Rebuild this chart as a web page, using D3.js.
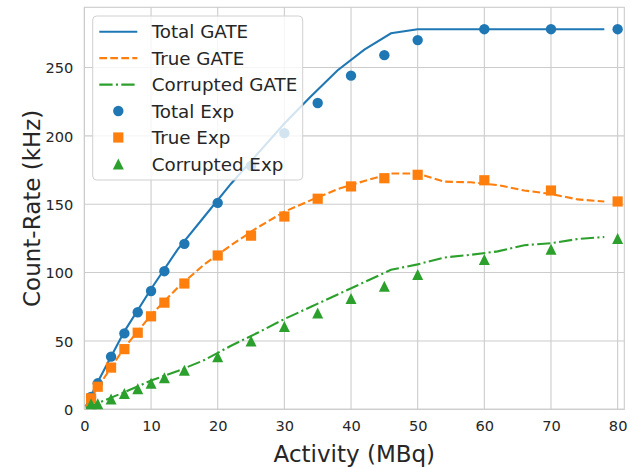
<!DOCTYPE html>
<html>
<head>
<meta charset="utf-8">
<script src="https://cdn.jsdelivr.net/npm/d3@7"></script>
<style>
  html, body { margin: 0; padding: 0; background: #fff; }
  svg { display: block; font-family: "DejaVu Sans", sans-serif; }
</style>
</head>
<body>
<svg id="chart" width="640" height="468"></svg>
<script>
// GATE simulation grid (MBq) and count rates (kHz)
var gateActivity = [0.2, 2, 6, 10, 14, 18, 22, 26, 30, 34, 38, 42, 46, 50, 54, 58, 62, 66, 70, 74, 78]
var totalGate    = [2, 20, 57, 88, 117, 141, 165, 187, 209, 229, 248, 263, 275, 278, 278, 278, 278, 278, 278, 278, 278]
var trueGate     = [2, 16, 45, 69, 89, 106, 120, 133, 144.5, 153, 161, 167, 172.5, 172.5, 166.5, 166, 164, 160, 157.5, 153.5, 152]
var corruptGate  = [1, 4.5, 12.5, 21, 28, 36, 46.5, 56, 66, 75, 84, 93, 102, 106, 111, 113, 115.5, 120, 121.5, 124.5, 126]

// experimental measurements
var expActivity  = [1, 2, 4, 6, 8, 10, 12, 15, 20, 25, 30, 35, 40, 45, 50, 60, 70, 80]
var totalExp     = [9, 19, 38.5, 55.5, 71, 86.5, 101, 121, 151, 178, 202, 224, 244, 259, 270, 278, 278, 278]
var trueExp      = [8, 16.5, 30.5, 44, 56, 68, 78, 92, 112.5, 127, 141, 154, 163, 169, 171.5, 167.5, 160, 152]
var corruptExp   = [4, 4, 7.5, 11.5, 15, 19, 23, 28.5, 38.5, 50, 60.5, 70.5, 81, 90, 98.5, 109.5, 117, 125]

var xTicks = [0, 10, 20, 30, 40, 50, 60, 70, 80]
var yTicks = [0, 50, 100, 150, 200, 250]

var blue = '#1f77b4', orange = '#ff7f0e', green = '#2ca02c'
var textColor = '#262626', gridColor = '#cccccc'

function drawChart() {
  var svg = d3.select('#chart')
  var plotL = 84.4, plotR = 624.3, plotT = 7.3, plotB = 409.3

  var x = d3.scaleLinear().domain([0, 81]).range([plotL, plotR])
  var y = d3.scaleLinear().domain([0, 294]).range([plotB, plotT])

  // grid
  svg.append('g').selectAll('line').data(xTicks).enter().append('line')
    .attr('x1', function (d) { return x(d) }).attr('x2', function (d) { return x(d) })
    .attr('y1', plotT).attr('y2', plotB)
    .attr('stroke', gridColor).attr('stroke-width', 1.1)
  svg.append('g').selectAll('line').data(yTicks).enter().append('line')
    .attr('y1', function (d) { return y(d) }).attr('y2', function (d) { return y(d) })
    .attr('x1', plotL).attr('x2', plotR)
    .attr('stroke', gridColor).attr('stroke-width', 1.1)

  // frame
  svg.append('rect').attr('x', plotL).attr('y', plotT)
    .attr('width', plotR - plotL).attr('height', plotB - plotT)
    .attr('fill', 'none').attr('stroke', gridColor).attr('stroke-width', 1.1)

  // tick labels via d3 axes, with lines hidden
  var xAxis = svg.append('g').attr('transform', 'translate(0,' + plotB + ')')
    .call(d3.axisBottom(x).tickValues(xTicks).tickSize(0).tickPadding(0))
  xAxis.attr('font-size', null).attr('font-family', null)
  xAxis.select('.domain').remove()
  xAxis.selectAll('text').attr('dy', null).attr('y', 22)
    .attr('font-size', 14.6).attr('fill', textColor)

  var yAxis = svg.append('g').attr('transform', 'translate(' + plotL + ',0)')
    .call(d3.axisLeft(y).tickValues(yTicks).tickSize(0).tickPadding(0))
  yAxis.attr('font-size', null).attr('font-family', null)
  yAxis.select('.domain').remove()
  yAxis.selectAll('text').attr('x', -11).attr('dy', '0.36em')
    .attr('font-size', 14.6).attr('fill', textColor)

  // axis titles
  svg.append('text').attr('x', (plotL + plotR) / 2).attr('y', 462)
    .attr('text-anchor', 'middle').attr('font-size', 23).attr('fill', textColor)
    .text('Activity (MBq)')
  svg.append('text').attr('transform', 'translate(40,' + (plotT + plotB) / 2 + ') rotate(-90)')
    .attr('text-anchor', 'middle').attr('font-size', 23).attr('fill', textColor)
    .text('Count-Rate (kHz)')

  // simulation lines
  var lineGen = d3.line()
    .x(function (d) { return x(d[0]) })
    .y(function (d) { return y(d[1]) })

  var gateSeries = [
    { values: totalGate,   color: blue,   dash: null },
    { values: trueGate,    color: orange, dash: '7.7,3.3' },
    { values: corruptGate, color: green,  dash: '13.3,3.3,2.1,3.3' }
  ]
  var plot = svg.append('g')
  gateSeries.forEach(function (s) {
    plot.append('path')
      .datum(gateActivity.map(function (a, i) { return [a, s.values[i]] }))
      .attr('d', lineGen)
      .attr('fill', 'none').attr('stroke', s.color).attr('stroke-width', 2.1)
      .attr('stroke-dasharray', s.dash)
  })

  // experimental markers
  var circle = d3.symbol().type(d3.symbolCircle).size(Math.PI * 5.2 * 5.2)
  var square = d3.symbol().type(d3.symbolSquare).size(10.2 * 10.2)
  function triPath(r) {
    return 'M0,' + (-r) + 'L' + r + ',' + r + 'L' + (-r) + ',' + r + 'Z'
  }

  plot.append('g').selectAll('path').data(expActivity).enter().append('path')
    .attr('transform', function (d, i) { return 'translate(' + x(d) + ',' + y(totalExp[i]) + ')' })
    .attr('d', circle).attr('fill', blue)
  plot.append('g').selectAll('path').data(expActivity).enter().append('path')
    .attr('transform', function (d, i) { return 'translate(' + x(d) + ',' + y(trueExp[i]) + ')' })
    .attr('d', square).attr('fill', orange)
  plot.append('g').selectAll('path').data(expActivity).enter().append('path')
    .attr('transform', function (d, i) { return 'translate(' + x(d) + ',' + y(corruptExp[i]) + ')' })
    .attr('d', triPath(5.5)).attr('fill', green)

  // legend
  var legendItems = [
    { label: 'Total GATE',     kind: 'line',   color: blue,   dash: null },
    { label: 'True GATE',      kind: 'line',   color: orange, dash: '7.7,3.3' },
    { label: 'Corrupted GATE', kind: 'line',   color: green,  dash: '13.3,3.3,2.1,3.3' },
    { label: 'Total Exp',      kind: 'circle', color: blue },
    { label: 'True Exp',       kind: 'square', color: orange },
    { label: 'Corrupted Exp',  kind: 'tri',    color: green }
  ]
  var legend = svg.append('g')
  legend.append('rect').attr('x', 92.7).attr('y', 16).attr('width', 210).attr('height', 164)
    .attr('rx', 4).attr('fill', '#fff').attr('fill-opacity', 0.8)
    .attr('stroke', '#d0d0d0').attr('stroke-width', 1)

  var row = legend.selectAll('g.item').data(legendItems).enter().append('g')
    .attr('class', 'item')
    .attr('transform', function (d, i) { return 'translate(0,' + (31.7 + i * 26.45) + ')' })

  row.each(function (d) {
    var g = d3.select(this)
    if (d.kind === 'line') {
      g.append('line').attr('x1', 99.3).attr('x2', 137.3).attr('y1', 0).attr('y2', 0)
        .attr('stroke', d.color).attr('stroke-width', 2.1).attr('stroke-dasharray', d.dash)
    } else {
      var p = g.append('path').attr('transform', 'translate(118.3,0)').attr('fill', d.color)
      if (d.kind === 'circle') p.attr('d', circle)
      if (d.kind === 'square') p.attr('d', square)
      if (d.kind === 'tri') p.attr('d', triPath(5.5))
    }
    g.append('text').attr('x', 151.7).attr('y', 6.6)
      .attr('font-size', 18.3).attr('fill', textColor).text(d.label)
  })
}
drawChart()
</script>
</body>
</html>
